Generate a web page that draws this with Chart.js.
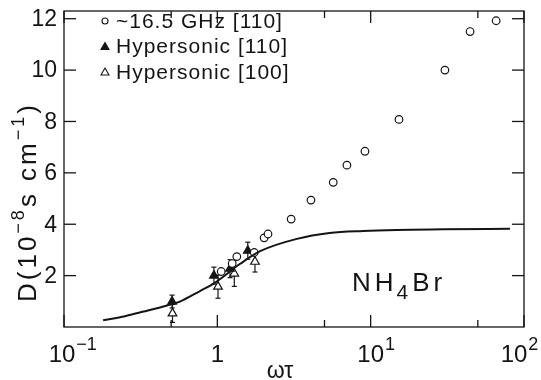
<!DOCTYPE html>
<html lang="en">
<head>
<meta charset="UTF-8">
<title>NH4Br D vs omega tau</title>
<script src="https://cdn.jsdelivr.net/npm/chart.js"></script>
<style>
  html, body { margin: 0; padding: 0; background: #fff; }
</style>
</head>
<body>
<canvas id="chart" width="541" height="380"></canvas>
<script>
// ~16.5 GHz [110]
const ghzX = [1.06, 1.25, 1.34, 1.74, 2.02, 2.14, 3.03, 4.08, 5.7, 7.0, 9.18, 15.3, 30.5, 44.5, 65.8];
const ghzY = [2.16, 2.47, 2.74, 2.9, 3.47, 3.62, 4.2, 4.94, 5.63, 6.3, 6.84, 8.08, 10.0, 11.5, 11.92];
// Hypersonic [110]
const hyp110X = [0.507, 0.95, 1.21, 1.58];
const hyp110Y = [0.99, 2.0, 2.27, 2.97];
const hyp110Err = [0.25, 0.33, 0.35, 0.33];
// Hypersonic [100]
const hyp100X = [0.51, 1.01, 1.29, 1.76];
const hyp100Y = [0.53, 1.57, 2.08, 2.54];
const hyp100Err = [0.35, 0.45, 0.5, 0.4];
// theory curve
const curveX = [0.18, 0.25, 0.33, 0.47, 0.57, 0.77, 0.94, 1.41, 1.9, 3.3, 5.4, 8.9, 14.8, 30, 81];
const curveY = [0.26, 0.42, 0.6, 0.84, 0.99, 1.4, 1.68, 2.46, 2.95, 3.43, 3.66, 3.74, 3.78, 3.8, 3.82];

const yTicks = [2, 4, 6, 8, 10, 12];
const xMajor = [0.1, 1, 10, 100];
const xMinor = [0.5, 5, 50];
const xLabels = [['10', '-1'], ['1', ''], ['10', '1'], ['10', '2']];

const ink = '#141414';
const font = '"Liberation Sans", Arial, sans-serif';

const pts = (xs, ys) => xs.map((x, i) => ({ x: x, y: ys[i] }));

function line(ctx, x1, y1, x2, y2) {
  ctx.beginPath(); ctx.moveTo(x1, y1); ctx.lineTo(x2, y2); ctx.stroke();
}

const errorBars = {
  id: 'errorBars',
  beforeDatasetsDraw(chart) {
    const { ctx, scales: { x, y } } = chart;
    ctx.save();
    ctx.strokeStyle = ink;
    ctx.lineWidth = 1.2;
    [[hyp110X, hyp110Y, hyp110Err], [hyp100X, hyp100Y, hyp100Err]].forEach(([xs, ys, es]) => {
      xs.forEach((xv, i) => {
        const px = x.getPixelForValue(xv);
        const top = y.getPixelForValue(ys[i] + es[i]);
        const bot = y.getPixelForValue(ys[i] - es[i]);
        line(ctx, px, top, px, bot);
        line(ctx, px - 2.5, top, px + 2.5, top);
        line(ctx, px - 2.5, bot, px + 2.5, bot);
      });
    });
    ctx.restore();
  }
};

const frame = {
  id: 'frame',
  afterDraw(chart) {
    const { ctx, chartArea: a, scales: { x, y } } = chart;
    ctx.save();
    ctx.strokeStyle = ink;
    ctx.lineWidth = 1.3;
    ctx.strokeRect(a.left, a.top, a.right - a.left, a.bottom - a.top);
    yTicks.forEach(v => {
      const py = y.getPixelForValue(v);
      line(ctx, a.left, py, a.left + 12, py);
      line(ctx, a.right, py, a.right - 12, py);
    });
    xMajor.forEach(v => {
      const px = x.getPixelForValue(v);
      line(ctx, px, a.bottom, px, a.bottom - 12);
      line(ctx, px, a.top, px, a.top + 12);
    });
    xMinor.forEach(v => {
      const px = x.getPixelForValue(v);
      line(ctx, px, a.bottom, px, a.bottom - 7);
      line(ctx, px, a.top, px, a.top + 7);
    });

    ctx.fillStyle = ink;
    // y tick labels
    ctx.font = '23px ' + font;
    ctx.textAlign = 'right';
    ctx.textBaseline = 'middle';
    yTicks.forEach(v => ctx.fillText(String(v), a.left - 7, y.getPixelForValue(v) + 1));

    // x tick labels with exponents
    ctx.textBaseline = 'alphabetic';
    xMajor.forEach((v, i) => {
      const px = x.getPixelForValue(v);
      const [base, exp] = xLabels[i];
      ctx.font = '24px ' + font;
      ctx.textAlign = 'center';
      const w = ctx.measureText(base).width;
      const bx = i === 3 ? px - 10 : (i === 0 ? px - 2 : px);
      ctx.fillText(base, bx, 362);
      if (exp) {
        ctx.font = '18px ' + font;
        ctx.textAlign = 'left';
        ctx.fillText(exp === '-1' ? '\u2212' + '1' : exp, bx + w / 2 + 1, 350);
      }
    });

    // x title
    ctx.font = '23px ' + font;
    ctx.textAlign = 'center';
    ctx.fillText('\u03c9\u03c4', 280, 378);

    // y title, rotated
    ctx.save();
    ctx.translate(36, 302);
    ctx.rotate(-Math.PI / 2);
    ctx.textAlign = 'left';
    ctx.letterSpacing = '3px';
    let cx = 0;
    [['D(10', 0], ['\u22128', 1], ['s cm', 0], ['\u22121', 1], [')', 0]].forEach(([t, sup]) => {
      ctx.font = (sup ? '18px ' : '26px ') + font;
      ctx.fillText(t, cx, sup ? -12 : 0);
      cx += ctx.measureText(t).width;
    });
    ctx.restore();

    // legend
    const legend = [
      ['circle', false, '~16.5 GHz [110]'],
      ['triangle', true, 'Hypersonic [110]'],
      ['triangle', false, 'Hypersonic [100]']
    ];
    legend.forEach(([shape, filled, text], i) => {
      const ly = 21 + i * 25.5;
      ctx.lineWidth = 1.1;
      ctx.fillStyle = filled ? ink : '#fff';
      ctx.beginPath();
      if (shape === 'circle') {
        ctx.arc(105, ly, 3, 0, Math.PI * 2);
      } else {
        ctx.moveTo(105, ly - 4); ctx.lineTo(109, ly + 3); ctx.lineTo(101, ly + 3); ctx.closePath();
      }
      ctx.fill(); ctx.stroke();
      ctx.fillStyle = ink;
      ctx.font = '21px ' + font;
      ctx.textAlign = 'left';
      ctx.textBaseline = 'middle';
      ctx.letterSpacing = '1px';
      ctx.fillText(text, 116, ly + 1);
    });

    // compound label
    ctx.textBaseline = 'alphabetic';
    ctx.letterSpacing = '4px';
    ctx.font = '26px ' + font;
    ctx.fillText('NH', 352, 291);
    let nx = 352 + ctx.measureText('NH').width - 1;
    ctx.font = '21px ' + font;
    ctx.fillText('4', nx, 299);
    nx += ctx.measureText('4').width;
    ctx.font = '26px ' + font;
    ctx.fillText('Br', nx, 291);
    ctx.restore();
  }
};

new Chart(document.getElementById('chart'), {
  type: 'scatter',
  data: {
    datasets: [
      {
        type: 'line',
        label: 'theory',
        data: pts(curveX, curveY),
        borderColor: ink,
        borderWidth: 2,
        pointRadius: 0,
        cubicInterpolationMode: 'monotone',
        fill: false
      },
      {
        label: '~16.5 GHz [110]',
        data: pts(ghzX, ghzY),
        pointStyle: 'circle',
        pointRadius: 3.8,
        borderWidth: 1.2,
        borderColor: ink,
        backgroundColor: '#fff'
      },
      {
        label: 'Hypersonic [110]',
        data: pts(hyp110X, hyp110Y),
        pointStyle: 'triangle',
        pointRadius: 5,
        borderWidth: 1.2,
        borderColor: ink,
        backgroundColor: ink
      },
      {
        label: 'Hypersonic [100]',
        data: pts(hyp100X, hyp100Y),
        pointStyle: 'triangle',
        pointRadius: 5,
        borderWidth: 1.2,
        borderColor: ink,
        backgroundColor: '#fff'
      }
    ]
  },
  options: {
    responsive: false,
    devicePixelRatio: 1,
    animation: false,
    layout: { padding: { top: 11, right: 17, left: 0, bottom: 0 } },
    plugins: { legend: { display: false }, tooltip: { enabled: false } },
    scales: {
      x: {
        type: 'logarithmic',
        min: 0.1,
        max: 100,
        ticks: { display: false },
        grid: { display: false },
        border: { display: false },
        afterFit(scale) { scale.height = 53; }
      },
      y: {
        type: 'linear',
        min: 0,
        max: 12.3,
        ticks: { display: false },
        grid: { display: false },
        border: { display: false },
        afterFit(scale) { scale.width = 64; }
      }
    }
  },
  plugins: [errorBars, frame]
});
</script>
</body>
</html>
